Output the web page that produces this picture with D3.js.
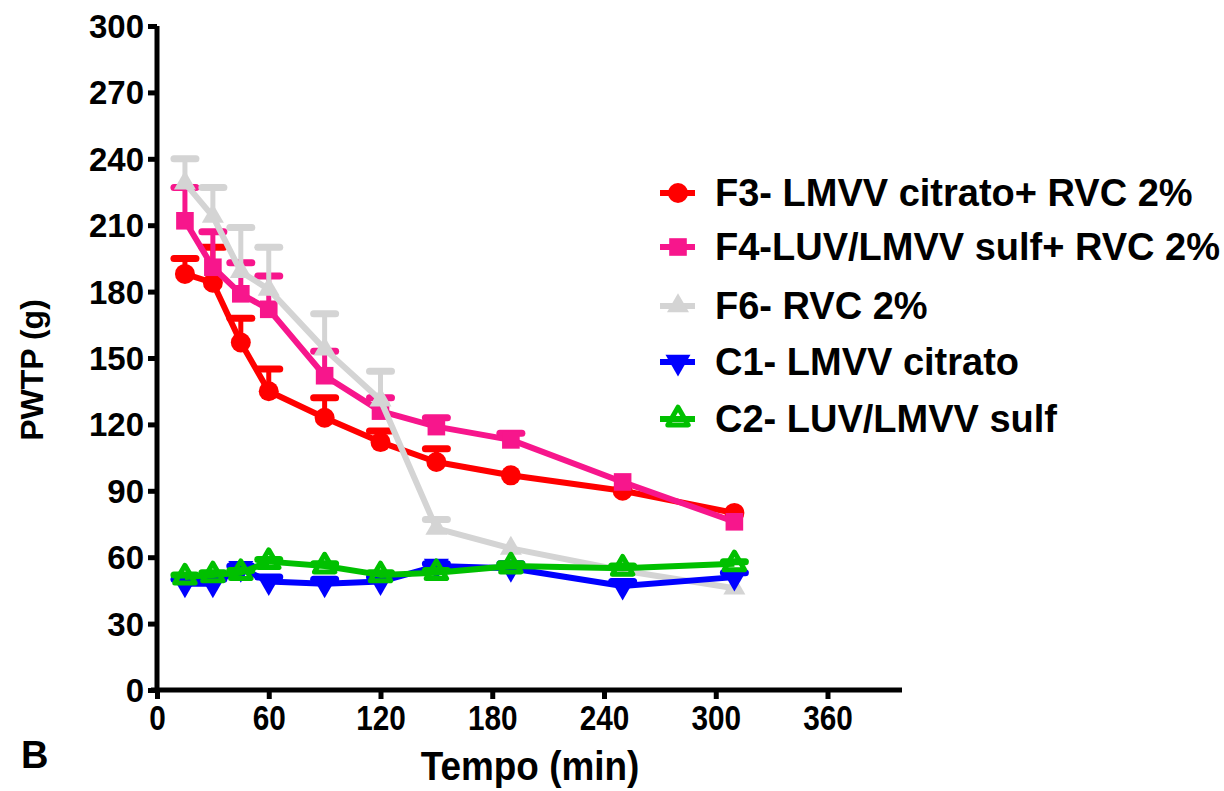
<!DOCTYPE html>
<html>
<head>
<meta charset="utf-8">
<script src="https://cdn.jsdelivr.net/npm/d3@7"></script>
<style>
  body { margin: 0; background: #fff; }
  svg { display: block; }
  text { font-family: "Liberation Sans", Arial, sans-serif; font-weight: bold; fill: #000; }
</style>
</head>
<body>
<svg id="chart" width="1224" height="791"></svg>
<script>
// --- data ---
const tempo = [15, 30, 45, 60, 90, 120, 150, 190, 250, 310];

const f3Mean = [188, 184, 157, 135, 123, 112, 103, 97, 90, 80];
const f3Err  = [7, 16, 11, 10, 9, 5, 6, 0, 0, 0];

const f4Mean = [212, 191, 179, 172, 142, 126, 119, 113, 94, 76];
const f4Err  = [15, 16, 14, 15, 11, 6, 4, 3, 0, 0];

const f6Mean = [229, 214, 189, 181, 154, 131, 73, 64, 54, 46];
const f6Err  = [11, 13, 20, 19, 16, 13, 4, 0, 0, 0];

const c1Mean = [48, 48, 55, 49, 48, 49, 56, 55, 47, 51];
const c1Err  = [2, 2, 1, 2, 2, 2, 1, 2, 2, 2];

const c2Mean = [51, 52, 53, 58, 56, 52, 53, 56, 55, 57];
const c2Err  = [1, 1, 1, 1, 1, 1, 1, 1, 1, 1];

const seriesNames = [
  "F3- LMVV citrato+ RVC 2%",
  "F4-LUV/LMVV sulf+ RVC 2%",
  "F6- RVC 2%",
  "C1- LMVV citrato",
  "C2- LUV/LMVV sulf"
];

const xTicks = [0, 60, 120, 180, 240, 300, 360];
const yTicks = [0, 30, 60, 90, 120, 150, 180, 210, 240, 270, 300];

const series = [
  { name: seriesNames[0], mean: f3Mean, err: f3Err, color: "#ff0000", shape: "circle" },
  { name: seriesNames[1], mean: f4Mean, err: f4Err, color: "#f7168c", shape: "square" },
  { name: seriesNames[2], mean: f6Mean, err: f6Err, color: "#d4d4d4", shape: "triangle" },
  { name: seriesNames[3], mean: c1Mean, err: c1Err, color: "#0000ff", shape: "down" },
  { name: seriesNames[4], mean: c2Mean, err: c2Err, color: "#00c000", shape: "open" }
];

// --- layout ---
const svg = d3.select("#chart");
const x = d3.scaleLinear().domain([0, 400]).range([157, 902]);
const y = d3.scaleLinear().domain([0, 300]).range([690, 26]);

// marker drawing
function drawMarker(g, shape, color) {
  if (shape === "circle") {
    g.append("circle").attr("r", 10).attr("fill", color);
  } else if (shape === "square") {
    g.append("path").attr("d", d3.symbol(d3.symbolSquare, 310)()).attr("fill", color);
  } else if (shape === "triangle") {
    g.append("path").attr("d", d3.symbol(d3.symbolTriangle, 210)()).attr("fill", color);
  } else if (shape === "down") {
    g.append("path").attr("d", d3.symbol(d3.symbolTriangle, 270)())
      .attr("transform", "rotate(180)").attr("fill", color);
  } else if (shape === "open") {
    g.append("path").attr("d", d3.symbol(d3.symbolTriangle, 180)())
      .attr("fill", "none").attr("stroke", color).attr("stroke-width", 5)
      .attr("stroke-linejoin", "round");
  }
}

// --- series ---
const plot = svg.append("g");
series.forEach(s => {
  const g = plot.append("g");
  const pts = tempo.map((t, i) => ({ t, m: s.mean[i], e: s.err[i] }));

  // error bars (upper only)
  pts.filter(p => p.e > 0).forEach(p => {
    g.append("line")
      .attr("x1", x(p.t)).attr("x2", x(p.t))
      .attr("y1", y(p.m)).attr("y2", y(p.m + p.e))
      .attr("stroke", s.color).attr("stroke-width", 5);
    g.append("line")
      .attr("x1", x(p.t) - 11).attr("x2", x(p.t) + 11)
      .attr("y1", y(p.m + p.e)).attr("y2", y(p.m + p.e))
      .attr("stroke", s.color).attr("stroke-width", 7)
      .attr("stroke-linecap", "round");
  });

  g.append("path")
    .datum(pts)
    .attr("fill", "none")
    .attr("stroke", s.color)
    .attr("stroke-width", 6)
    .attr("stroke-linejoin", "round")
    .attr("d", d3.line().x(p => x(p.t)).y(p => y(p.m)));

  pts.forEach(p => {
    const m = g.append("g").attr("transform", `translate(${x(p.t)},${y(p.m)})`);
    drawMarker(m, s.shape, s.color);
  });
});

// --- axes ---
const yAxis = svg.append("g").attr("transform", `translate(${x(0)},0)`)
  .call(d3.axisLeft(y).tickValues(yTicks).tickSize(9).tickPadding(4));
yAxis.select(".domain").attr("stroke-width", 5).attr("d", `M0,${y(0) + 2.5}V${y(300)}`);
yAxis.selectAll(".tick line").attr("stroke-width", 5);
yAxis.selectAll(".tick text").style("font-size", "33px").attr("dy", "0.35em");

const xAxis = svg.append("g").attr("transform", `translate(0,${y(0)})`)
  .call(d3.axisBottom(x).tickValues(xTicks).tickSize(9).tickPadding(6));
xAxis.select(".domain").attr("stroke-width", 5).attr("d", `M${x(0) - 6},0H${x(400)}`);
xAxis.selectAll(".tick line").attr("stroke-width", 5);
// condensed look of the x tick labels
xAxis.selectAll(".tick text").style("font-size", "35px").attr("transform", "scale(0.85,1)");

// axis titles
svg.append("text")
  .attr("transform", "translate(530,780) scale(0.9,1)")
  .attr("text-anchor", "middle")
  .style("font-size", "41px")
  .text("Tempo (min)");

svg.append("text")
  .attr("transform", "translate(43,370) rotate(-90)")
  .attr("text-anchor", "middle")
  .style("font-size", "32px")
  .text("PWTP (g)");

svg.append("text")
  .attr("x", 21).attr("y", 768)
  .style("font-size", "38px")
  .text("B");

// --- legend ---
const legendY = [193, 247, 306, 362, 419];
const legend = svg.append("g");
series.forEach((s, i) => {
  const g = legend.append("g").attr("transform", `translate(0,${legendY[i]})`);
  g.append("line").attr("x1", 660).attr("x2", 695).attr("y1", 0).attr("y2", 0)
    .attr("stroke", s.color).attr("stroke-width", 6);
  const m = g.append("g").attr("transform", "translate(678,0)");
  drawMarker(m, s.shape, s.color);
  g.append("text").attr("x", 715).attr("y", 13)
    .style("font-size", "38px")
    .text(s.name);
});
</script>
</body>
</html>
